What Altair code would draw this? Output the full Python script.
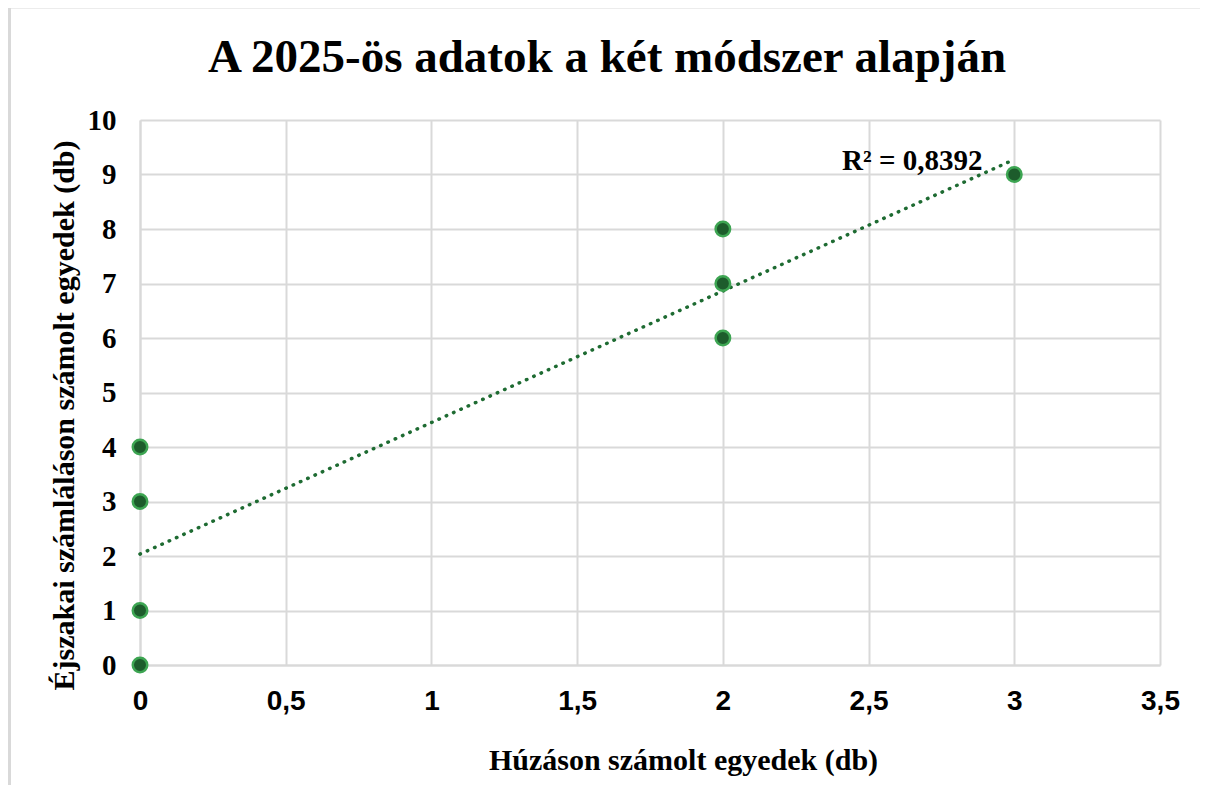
import altair as alt
import pandas as pd

# Data
huzas = [0, 0, 0, 0, 2, 2, 2, 3]
ejszakai = [0, 1, 3, 4, 6, 7, 8, 9]
r2_label = ["R² = 0,8392"]
r2_x = [2.65]
r2_y = [9.25]

df = pd.DataFrame({"x": huzas, "y": ejszakai})
lab = pd.DataFrame({"t": r2_label, "x": r2_x, "y": r2_y})

W, H = 1020, 545
serif = "Liberation Serif"
sans = "Liberation Sans"
grid = "#D9D9D9"

xs = alt.Scale(domain=[0, 3.5], nice=False, zero=False)
ys = alt.Scale(domain=[0, 10], nice=False)

xaxis = alt.Axis(
    title="Húzáson számolt egyedek (db)", values=[0, 0.5, 1, 1.5, 2, 2.5, 3, 3.5],
    labelExpr="replace(format(datum.value, '~g'), '.', ',')",
    labelFont=sans, labelFontSize=28, labelFontWeight="bold", labelColor="#000",
    labelPadding=22, labelFlush=False, ticks=False, domainColor=grid, domainWidth=2,
    gridColor=grid, gridWidth=2,
    titleFont=serif, titleFontSize=30, titleFontWeight="bold", titleColor="#000",
    titlePadding=30, titleX=543,
)
yaxis = alt.Axis(
    title="Éjszakai számláláson számolt egyedek (db)", values=list(range(0, 11)),
    labelFont=serif, labelFontSize=29, labelFontWeight="bold", labelColor="#000",
    labelPadding=24, labelFlush=False, ticks=False, domainColor=grid, domainWidth=2,
    gridColor=grid, gridWidth=2,
    titleFont=serif, titleFontSize=30, titleFontWeight="bold", titleColor="#000",
    titlePadding=8, titleY=295,
)

base = alt.Chart(df)

trend = base.transform_regression("x", "y", extent=[0, 3]).mark_line(
    color="#1E6B32", strokeWidth=3.5, strokeDash=[0.5, 7.5], strokeCap="round"
).encode(x=alt.X("x:Q", scale=xs, axis=xaxis), y=alt.Y("y:Q", scale=ys, axis=yaxis))

pts = base.mark_point(
    filled=True, shape="circle", size=210, color="#1D5C2C", stroke="#3DA552",
    strokeWidth=2.5, opacity=1
).encode(x=alt.X("x:Q", scale=xs), y=alt.Y("y:Q", scale=ys))

txt = alt.Chart(lab).mark_text(
    font=serif, fontSize=29, fontWeight="bold", color="#000", align="center", baseline="middle"
).encode(x=alt.X("x:Q", scale=xs), y=alt.Y("y:Q", scale=ys), text="t:N")

frame = alt.Chart(lab).mark_rule(color="#D9D9D9", strokeWidth=3).encode(
    x=alt.value(-131), x2=alt.value(W + 60), y=alt.value(-113)
)
frame2 = alt.Chart(lab).mark_rule(color="#D9D9D9", strokeWidth=3).encode(
    x=alt.value(-130.5), y=alt.value(-113), y2=alt.value(H + 140)
)

chart = alt.layer(frame, frame2, trend, pts, txt).properties(
    width=W, height=H,
    title=alt.TitleParams(
        "A 2025-ös adatok a két módszer alapján", font=serif, fontSize=47,
        fontWeight="bold", color="#000", anchor="middle", offset=0, dy=76, dx=-43,
        frame="group"
    ),
    autosize=alt.AutoSizeParams(type="none"),
    padding={"left": 132, "top": 112, "right": 40, "bottom": 120},
).configure_view(stroke=None)

chart.save("out.html", embed_options={"renderer": "svg", "actions": False})
